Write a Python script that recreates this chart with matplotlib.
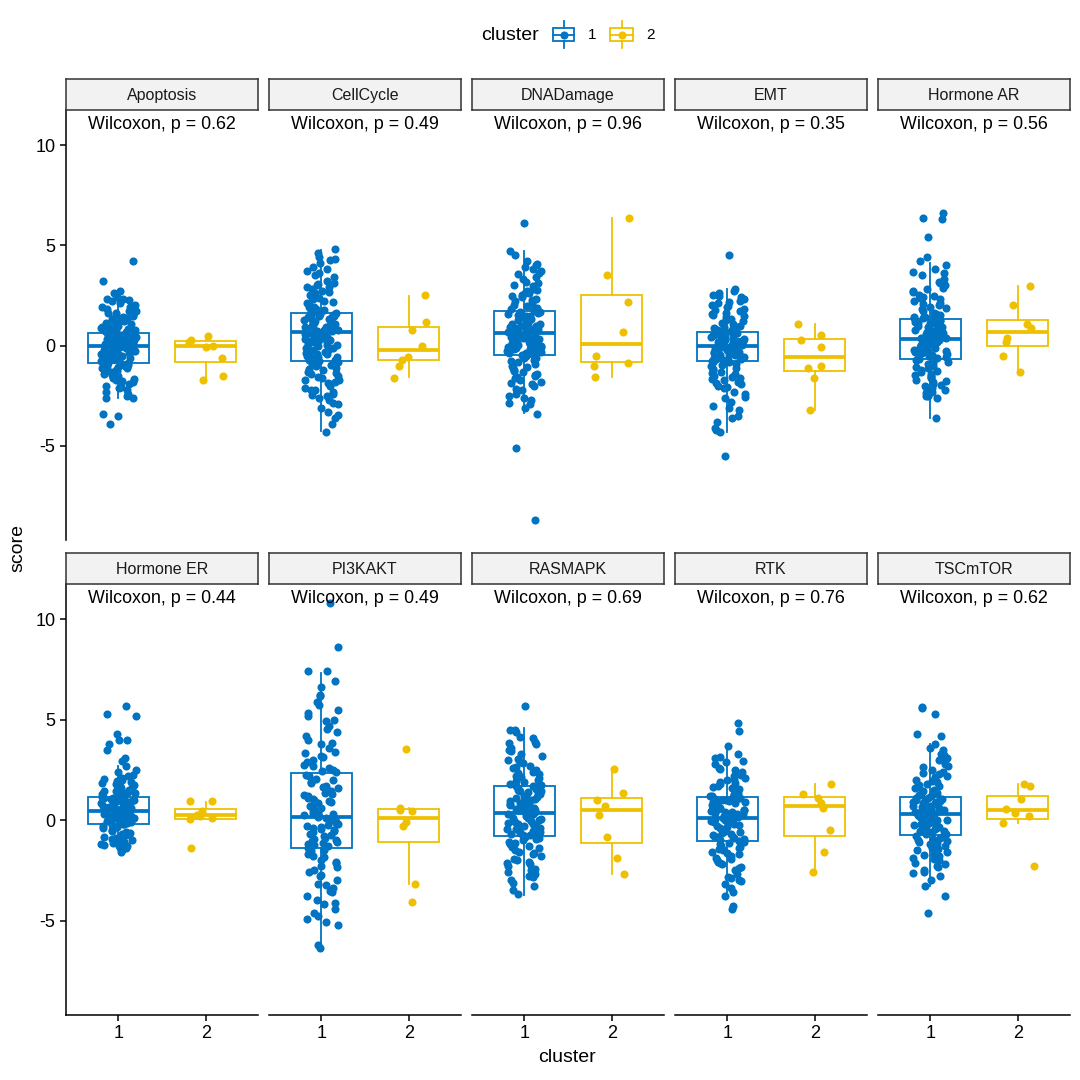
import numpy as np
import matplotlib.pyplot as plt
from matplotlib.patches import Rectangle

plt.rcParams['font.family'] = ['Liberation Sans', 'DejaVu Sans']
plt.rcParams['axes.unicode_minus'] = False

pathways = ['Apoptosis', 'CellCycle', 'DNADamage', 'EMT', 'Hormone AR',
            'Hormone ER', 'PI3KAKT', 'RASMAPK', 'RTK', 'TSCmTOR']
p_values = ['0.62', '0.49', '0.96', '0.35', '0.56', '0.44', '0.49', '0.69', '0.76', '0.62']

# box stats (cluster 1)
c1_q1 = [-0.86, -0.76, -0.45, -0.76, -0.69, -0.17, -1.41, -0.78, -1.04, -0.75]
c1_med = [0.0, 0.66, 0.63, -0.02, 0.35, 0.46, 0.17, 0.36, 0.12, 0.3]
c1_q3 = [0.63, 1.63, 1.72, 0.68, 1.3, 1.13, 2.32, 1.71, 1.13, 1.16]
c1_lo = [-2.6, -4.27, -3.37, -4.3, -3.6, -1.5, -6.2, -3.73, -3.81, -3.3]
c1_hi = [2.7, 4.77, 4.72, 2.8, 4.1, 2.7, 7.3, 4.56, 3.7, 3.8]

# cluster 2
c2_q1 = [-0.83, -0.74, -0.83, -1.27, -0.03, 0.05, -1.08, -1.16, -0.8, 0.07]
c2_med = [0.0, -0.22, 0.1, -0.56, 0.68, 0.26, 0.12, 0.48, 0.7, 0.5]
c2_q3 = [0.21, 0.91, 2.51, 0.31, 1.25, 0.55, 0.53, 1.11, 1.13, 1.19]
c2_lo = [-1.7, -1.55, -1.55, -3.2, -1.3, 0.05, -3.2, -2.69, -2.6, -0.15]
c2_hi = [0.5, 2.49, 6.34, 1.05, 2.95, 0.9, 0.6, 2.54, 1.8, 1.8]

# cluster 1 scores (estimated from the jittered cloud)
c1_apoptosis = [4.2, 3.2, 2.7, 2.6, 2.4, 2.3, 2.3, 2.2, 2.1, 2.0, 1.9, 1.8, 1.7, 1.7, 1.6, 1.5, 1.5, 1.4,
                1.3, 1.3, 1.2, 1.2, 1.1, 1.1, 1.0, 1.0, 0.9, 0.9, 0.8, 0.8, 0.7, 0.7, 0.6, 0.6, 0.55, 0.5,
                0.5, 0.45, 0.4, 0.4, 0.35, 0.3, 0.3, 0.25, 0.2, 0.2, 0.15, 0.1, 0.1, 0.05, 0.0, 0.0,
                -0.05, -0.1, -0.1, -0.15, -0.2, -0.2, -0.25, -0.3, -0.3, -0.35, -0.4, -0.4, -0.45, -0.5,
                -0.5, -0.55, -0.6, -0.65, -0.7, -0.75, -0.8, -0.85, -0.9, -0.95, -1.0, -1.0, -1.1, -1.1,
                -1.2, -1.2, -1.3, -1.4, -1.4, -1.5, -1.6, -1.7, -1.8, -1.9, -2.0, -2.1, -2.2, -2.4, -2.5,
                -2.6, -2.6, -3.4, -3.5, -3.9,
                0.12, -0.22, 0.33, -0.41, 0.57, -0.66, 0.08, -0.14, 0.27, -0.33, 0.48, -0.58, 0.91, -1.05,
                1.12, -1.27, 0.02, -0.07, 0.44, -0.48, 0.19, -0.29, 0.73, -0.77, 1.35, -1.45, 1.62, -1.66,
                0.37, -0.52, 0.63, -0.85, 1.9, -2.05, 2.25, -2.3, 0.15, -0.12, 0.52, -0.38, 0.85, -0.95,
                1.05, -1.15, 0.3, -0.6, 1.45, -1.75, 0.05, -0.25]
c1_cellcycle = [4.8, 4.6, 4.4, 4.3, 4.1, 3.9, 3.8, 3.7, 3.5, 3.4, 3.2, 3.1, 3.0, 2.9, 2.8, 2.7, 2.6, 2.5,
                2.4, 2.3, 2.2, 2.1, 2.0, 1.9, 1.8, 1.8, 1.7, 1.6, 1.55, 1.5, 1.45, 1.4, 1.35, 1.3, 1.25,
                1.2, 1.15, 1.1, 1.05, 1.0, 0.95, 0.9, 0.85, 0.8, 0.75, 0.7, 0.65, 0.6, 0.5, 0.45, 0.4,
                0.3, 0.25, 0.2, 0.1, 0.05, 0.0, -0.1, -0.15, -0.2, -0.3, -0.35, -0.4, -0.5, -0.55, -0.6,
                -0.7, -0.75, -0.8, -0.9, -1.0, -1.1, -1.2, -1.3, -1.4, -1.5, -1.6, -1.7, -1.8, -1.9, -2.0,
                -2.1, -2.2, -2.3, -2.4, -2.5, -2.6, -2.7, -2.9, -3.1, -3.3, -3.6, -3.9, -4.3,
                0.72, 0.41, 1.12, -0.22, 1.48, -0.58, 0.95, 0.18, 1.33, -0.41, 2.15, -1.35, 2.65, -1.85,
                0.55, 0.88, 1.62, -0.72, 3.05, -2.45, 0.28, 1.02, 1.75, -0.95, 3.6, -2.85, 0.65, 1.25,
                -0.1, 2.35, -1.55, 0.05, 1.9, -1.15, 2.9, -2.2, 0.78, 1.42, 0.33, -0.33, 4.25, -3.45,
                1.55, 0.92, 2.5, -1.7]
c1_dnadamage = [6.1, 4.7, 4.5, 4.2, 4.0, 3.9, 3.8, 3.7, 3.6, 3.4, 3.3, 3.1, 3.0, 2.8, 2.7, 2.6, 2.5, 2.4,
                2.3, 2.2, 2.1, 2.0, 1.9, 1.8, 1.75, 1.7, 1.65, 1.6, 1.5, 1.45, 1.4, 1.3, 1.25, 1.2, 1.1,
                1.05, 1.0, 0.95, 0.9, 0.85, 0.8, 0.75, 0.7, 0.65, 0.6, 0.55, 0.5, 0.45, 0.4, 0.35, 0.3,
                0.25, 0.2, 0.15, 0.1, 0.05, 0.0, -0.05, -0.1, -0.15, -0.2, -0.25, -0.3, -0.35, -0.4, -0.45,
                -0.5, -0.6, -0.7, -0.8, -0.9, -1.0, -1.1, -1.2, -1.3, -1.4, -1.5, -1.6, -1.7, -1.8, -1.9,
                -2.0, -2.2, -2.4, -2.6, -2.7, -2.9, -3.1, -3.4, -5.1, -8.7,
                0.68, 0.35, 1.15, -0.15, 1.52, -0.38, 0.92, 0.22, 1.38, 0.05, 2.25, -1.05, 2.75, -1.55,
                0.55, 0.82, 1.68, -0.28, 3.15, -2.15, 0.48, 1.08, 1.85, -0.75, 3.55, -2.5, 0.62, 1.28,
                0.12, 2.45, -1.25, 0.75, 1.95, -0.62, 2.95, -1.85, 0.88, 1.45, 0.38, -0.05, 4.05, -2.85,
                1.58, 0.98, 2.62, -1.45]
c1_emt = [4.5, 2.8, 2.7, 2.6, 2.5, 2.4, 2.3, 2.2, 2.1, 2.0, 1.9, 1.8, 1.7, 1.6, 1.5, 1.4, 1.3, 1.2, 1.1,
          1.0, 0.95, 0.9, 0.85, 0.8, 0.75, 0.7, 0.65, 0.6, 0.55, 0.5, 0.45, 0.4, 0.35, 0.3, 0.25, 0.2,
          0.15, 0.1, 0.05, 0.0, -0.05, -0.1, -0.15, -0.2, -0.25, -0.3, -0.35, -0.4, -0.45, -0.5, -0.55,
          -0.6, -0.65, -0.7, -0.75, -0.8, -0.9, -1.0, -1.1, -1.2, -1.3, -1.4, -1.5, -1.6, -1.7, -1.8,
          -1.9, -2.0, -2.1, -2.3, -2.4, -2.6, -2.8, -3.0, -3.2, -3.5, -3.6, -3.8, -4.1, -4.2, -4.3, -5.5,
          0.05, -0.32, 0.42, -0.55, 0.62, -0.71, 0.22, -0.12, 0.51, -0.45, 1.05, -1.15, 1.45, -1.55,
          -0.05, 0.12, 0.75, -0.82, 1.75, -2.05, 0.33, -0.25, 0.95, -0.95, 2.15, -2.55, 0.02, 0.58,
          -0.62, 1.25, -1.35, 0.28, 0.88, -0.38, 1.95, -1.85, -0.15, 0.45, -0.48, 0.15, 2.45, -3.1,
          0.68, -0.68, 1.55, -1.65]
c1_hormone_ar = [6.6, 6.35, 6.3, 5.4, 4.4, 4.2, 4.0, 3.8, 3.6, 3.5, 3.3, 3.1, 3.0, 2.8, 2.7, 2.5, 2.4,
                 2.3, 2.2, 2.1, 2.0, 1.9, 1.8, 1.7, 1.6, 1.5, 1.4, 1.35, 1.3, 1.2, 1.15, 1.1, 1.0, 0.95,
                 0.9, 0.8, 0.75, 0.7, 0.6, 0.55, 0.5, 0.4, 0.35, 0.3, 0.2, 0.15, 0.1, 0.0, -0.05, -0.1,
                 -0.2, -0.25, -0.3, -0.4, -0.45, -0.5, -0.6, -0.65, -0.7, -0.8, -0.9, -1.0, -1.1, -1.2,
                 -1.3, -1.4, -1.5, -1.6, -1.7, -1.8, -1.9, -2.0, -2.1, -2.2, -2.3, -2.5, -2.5, -2.6, -3.6,
                 0.42, 0.05, 0.85, -0.35, 1.18, -0.55, 0.62, -0.12, 1.05, -0.25, 1.85, -1.05, 2.35, -1.45,
                 0.28, 0.52, 1.28, -0.68, 2.65, -1.75, 0.15, 0.72, 1.55, -0.85, 3.15, -2.25, 0.38, 0.95,
                 -0.02, 2.05, -1.25, 0.22, 1.42, -0.45, 2.85, -1.95, 0.48, 1.12, 0.08, -0.18, 3.65, -2.35,
                 1.35, 0.68, 2.45, -1.55]
c1_hormone_er = [5.7, 5.3, 5.2, 4.3, 4.0, 4.0, 3.8, 3.5, 3.1, 2.95, 2.7, 2.5, 2.4, 2.2, 2.1, 2.0, 1.9,
                 1.8, 1.7, 1.6, 1.5, 1.5, 1.4, 1.35, 1.3, 1.25, 1.2, 1.15, 1.1, 1.05, 1.0, 0.95, 0.9,
                 0.85, 0.8, 0.75, 0.7, 0.65, 0.6, 0.55, 0.5, 0.45, 0.4, 0.35, 0.3, 0.25, 0.2, 0.15, 0.1,
                 0.05, 0.0, -0.05, -0.1, -0.15, 1.45, 1.0, 0.85, 0.6, 0.4, 0.2, 0.0, -0.2, -0.3, -0.4,
                 -0.5, -0.6, -0.7, -0.8, -0.9, -1.0, -1.1, -1.2, -1.3, -1.3, -1.4, -1.5, -1.6,
                 0.48, 0.22, 0.78, -0.05, 1.02, -0.12, 0.62, 0.12, 0.92, 0.02, 1.45, -0.55, 1.75, -0.85,
                 0.38, 0.55, 1.12, -0.18, 1.95, -1.05, 0.28, 0.72, 1.28, -0.35, 2.25, -1.25, 0.42, 0.88,
                 0.18, 1.58, -0.65, 0.32, 1.05, -0.25, 1.85, -0.95, 0.52, 0.98, 0.08, 0.68, 2.05, -1.15,
                 1.22, 0.58, 1.65, -0.75, 0.35, 0.82, -0.08, 0.15]
c1_pi3kakt = [10.8, 8.6, 7.4, 7.4, 6.9, 6.6, 6.2, 5.9, 5.5, 5.2, 5.0, 4.7, 4.4, 4.2, 4.0, 3.8, 3.6, 3.4,
              3.2, 3.0, 2.9, 2.7, 2.6, 2.5, 2.4, 2.2, 2.0, 1.9, 1.7, 1.6, 1.5, 1.3, 1.2, 1.1, 1.0, 0.9,
              0.7, 0.6, 0.5, 0.4, 0.3, 0.2, 0.1, 0.0, -0.1, -0.2, -0.3, -0.4, -0.5, -0.6, -0.7, -0.8,
              -0.9, -1.0, -1.1, -1.2, -1.3, -1.4, -1.5, -1.7, -1.8, -2.0, -2.1, -2.3, -2.5, -2.6, -2.8,
              -3.0, -3.2, -3.4, -3.6, -3.8, -4.0, -4.2, -4.4, -4.6, -4.9, -5.2, -6.2, -6.35,
              0.25, -0.45, 1.05, -0.95, 1.85, -1.25, 0.65, -0.15, 1.45, -0.75, 3.35, -2.35, 4.55, -3.25,
              0.05, 0.85, 2.25, -1.55, 5.35, -4.15, -0.35, 1.25, 2.75, -1.85, 6.25, -4.75, 0.45, 1.65,
              -0.55, 3.85, -2.75, 0.15, 2.05, -1.05, 4.95, -3.55, 0.35, 1.35, -0.25, 0.95, 5.75, -5.05,
              2.45, -1.15, 3.15, -2.15]
c1_rasmapk = [5.7, 4.5, 4.5, 4.4, 4.1, 3.9, 3.8, 3.6, 3.5, 3.3, 3.2, 3.0, 2.9, 2.7, 2.6, 2.5, 2.4, 2.3,
              2.2, 2.1, 2.0, 1.9, 1.8, 1.75, 1.7, 1.6, 1.5, 1.45, 1.4, 1.3, 1.2, 1.1, 1.0, 0.95, 0.9,
              0.8, 0.7, 0.6, 0.55, 0.5, 0.4, 0.3, 0.2, 0.15, 0.1, 0.0, -0.1, -0.15, -0.2, -0.3, -0.4,
              -0.45, -0.5, -0.6, -0.7, -0.75, -0.8, -0.9, -1.0, -1.1, -1.2, -1.3, -1.4, -1.5, -1.6,
              -1.7, -1.8, -2.0, -2.1, -2.2, -2.3, -2.5, -2.6, -2.7, -2.8, -3.0, -3.3, -3.5, -3.7,
              0.42, -0.05, 1.05, -0.45, 1.55, -0.65, 0.75, 0.12, 1.32, -0.28, 2.35, -1.35, 3.05, -1.95,
              0.28, 0.92, 1.68, -0.72, 3.45, -2.45, 0.18, 0.85, 1.95, -0.95, 3.85, -2.85, 0.55, 1.22,
              -0.18, 2.65, -1.65, 0.35, 1.45, -0.55, 2.85, -2.15, 0.65, 1.15, 0.05, 0.48, 4.15, -3.15,
              1.75, -0.85, 2.15, -1.15]
c1_rtk = [4.85, 4.45, 3.7, 3.3, 3.1, 2.9, 2.8, 2.6, 2.5, 2.4, 2.3, 2.2, 2.1, 2.0, 1.9, 1.8, 1.7, 1.6,
          1.5, 1.4, 1.3, 1.2, 1.15, 1.1, 1.0, 0.95, 0.9, 0.8, 0.75, 0.7, 0.6, 0.55, 0.5, 0.4, 0.35, 0.3,
          0.2, 0.15, 0.1, 0.0, -0.1, -0.15, -0.2, -0.3, -0.4, -0.5, -0.55, -0.6, -0.7, -0.8, -0.85,
          -0.9, -1.0, -1.1, -1.2, -1.3, -1.4, -1.5, -1.6, -1.7, -1.8, -1.9, -2.0, -2.1, -2.2, -2.4,
          -2.5, -2.7, -2.9, -3.0, -3.2, -3.4, -3.6, -3.8, -4.3, -4.4,
          0.18, -0.35, 0.75, -0.65, 1.05, -0.95, 0.45, -0.12, 0.92, -0.52, 1.65, -1.45, 2.25, -1.95,
          0.05, 0.62, 1.12, -0.85, 2.55, -2.35, 0.28, -0.22, 1.35, -1.15, 2.95, -2.85, 0.38, 0.85,
          -0.42, 1.85, -1.65, 0.12, 1.02, -0.75, 2.05, -2.15, 0.52, 0.95, -0.05, 0.22, 3.15, -3.05,
          1.22, -1.05, 1.55, -1.35]
c1_tscmtor = [5.65, 5.6, 5.3, 4.3, 4.2, 3.8, 3.6, 3.5, 3.3, 3.1, 3.0, 2.8, 2.7, 2.5, 2.4, 2.3, 2.2, 2.0,
              1.9, 1.8, 1.7, 1.6, 1.5, 1.4, 1.3, 1.2, 1.1, 1.05, 1.0, 0.9, 0.85, 0.8, 0.7, 0.65, 0.6,
              0.5, 0.45, 0.4, 0.3, 0.25, 0.2, 0.1, 0.05, 0.0, -0.1, -0.15, -0.2, -0.3, -0.35, -0.4,
              -0.5, -0.55, -0.6, -0.7, -0.8, -0.9, -1.0, -1.1, -1.2, -1.3, -1.4, -1.5, -1.6, -1.7,
              -1.8, -1.9, -2.0, -2.2, -2.3, -2.5, -2.6, -2.8, -3.0, -3.3, -3.8, -4.6,
              0.35, -0.15, 0.85, -0.45, 1.12, -0.68, 0.58, 0.08, 0.98, -0.32, 1.75, -1.25, 2.35, -1.75,
              0.22, 0.72, 1.25, -0.78, 2.65, -2.15, 0.15, 0.62, 1.45, -0.95, 3.05, -2.65, 0.42, 0.95,
              -0.25, 1.95, -1.45, 0.28, 1.05, -0.55, 2.15, -1.95, 0.48, 0.88, 0.02, 0.52, 3.25, -2.35,
              1.35, -1.05, 1.65, -1.15]

# cluster 2 scores
c2_apoptosis = [0.5, 0.3, 0.2, 0.0, -0.05, -0.6, -1.5, -1.7]
c2_cellcycle = [2.5, 1.15, 0.8, 0.0, -0.55, -0.7, -1.0, -1.6]
c2_dnadamage = [6.35, 3.5, 2.15, 0.7, -0.5, -0.85, -1.0, -1.55]
c2_emt = [1.05, 0.55, 0.3, -0.05, -1.0, -1.1, -1.6, -3.2]
c2_hormone_ar = [2.95, 2.0, 1.05, 0.9, 0.4, 0.2, -0.5, -1.3]
c2_hormone_er = [0.95, 0.95, 0.45, 0.25, 0.2, 0.1, 0.05, -1.4]
c2_pi3kakt = [3.55, 0.6, 0.5, 0.45, -0.1, -0.3, -3.2, -4.1]
c2_rasmapk = [2.55, 1.35, 1.0, 0.7, 0.25, -0.85, -1.9, -2.7]
c2_rtk = [1.8, 1.3, 1.1, 0.85, 0.6, -0.5, -1.6, -2.6]
c2_tscmtor = [1.8, 1.7, 1.05, 0.55, 0.35, 0.2, -0.15, -2.3]

c1_points = [c1_apoptosis, c1_cellcycle, c1_dnadamage, c1_emt, c1_hormone_ar,
             c1_hormone_er, c1_pi3kakt, c1_rasmapk, c1_rtk, c1_tscmtor]
c2_points = [c2_apoptosis, c2_cellcycle, c2_dnadamage, c2_emt, c2_hormone_ar,
             c2_hormone_er, c2_pi3kakt, c2_rasmapk, c2_rtk, c2_tscmtor]

blue = '#0073C2'
yellow = '#EFC000'
W = H = 1080.0

fig = plt.figure(figsize=(10.8, 10.8), dpi=100)


def px_axes(x0, y0, x1, y1):
    # axes from pixel box (origin top left)
    return fig.add_axes([x0 / W, 1 - y1 / H, (x1 - x0) / W, (y1 - y0) / H])


def jitter(n, phase):
    # sideways spread, width 0.2 like ggpubr's jitter (hash, not data)
    u = np.sin((np.arange(n) + 1) * 12.9898 + phase) * 43758.5453
    return 0.4 * ((u - np.floor(u)) - 0.5)


col_x = [66, 269, 472, 675, 878]
rows = [(79, 110, 540), (553, 584, 1015)]

for i, name in enumerate(pathways):
    r, c = divmod(i, 5)
    st, top, bot = rows[r]
    x0 = col_x[c]
    ax = px_axes(x0, top, x0 + 192, bot)
    sax = px_axes(x0, st, x0 + 192, top)

    stats = [dict(med=c1_med[i], q1=c1_q1[i], q3=c1_q3[i], whislo=c1_lo[i], whishi=c1_hi[i], fliers=[]),
             dict(med=c2_med[i], q1=c2_q1[i], q3=c2_q3[i], whislo=c2_lo[i], whishi=c2_hi[i], fliers=[])]
    bp = ax.bxp(stats, positions=[1, 2], widths=0.7, showcaps=False, showfliers=False,
                patch_artist=True, manage_ticks=False)
    for k, col in enumerate([blue, yellow]):
        bp['boxes'][k].set(facecolor='white', edgecolor=col, linewidth=1.3, zorder=2)
        bp['medians'][k].set(color=col, linewidth=2.7, zorder=2)
        for wl in bp['whiskers'][2 * k:2 * k + 2]:
            wl.set(color=col, linewidth=1.3, zorder=2)

    v1 = np.array(c1_points[i])
    v2 = np.array(c2_points[i])
    ax.scatter(1 + jitter(len(v1), 1.7 * i), v1, s=34, color=blue, linewidths=0, zorder=3)
    ax.scatter(2 + jitter(len(v2), 0.9 + 2.3 * i), v2, s=34, color=yellow, linewidths=0, zorder=3)

    ax.text(1.5, 11.05, 'Wilcoxon, p = ' + p_values[i], ha='center', va='center', fontsize=12.9)

    ax.set_xlim(0.4, 2.6)
    ax.set_ylim(-9.7, 11.75)
    for s in ax.spines.values():
        s.set_visible(False)
        s.set_linewidth(1.1)
    ax.tick_params(length=4, width=1.1, labelsize=13, colors='black')
    if c == 0:
        ax.spines['left'].set_visible(True)
        ax.set_yticks([-5, 0, 5, 10])
    else:
        ax.set_yticks([])
    if r == 1:
        ax.spines['bottom'].set_visible(True)
        ax.set_xticks([1, 2])
        ax.set_xticklabels(['1', '2'])
    else:
        ax.set_xticks([])

    sax.set_facecolor('#F2F2F2')
    sax.set_xticks([])
    sax.set_yticks([])
    for s in sax.spines.values():
        s.set_linewidth(1.1)
        s.set_color('#333333')
    sax.text(0.5, 0.46, name, ha='center', va='center', fontsize=11.5, color='#1A1A1A',
             transform=sax.transAxes)

fig.text(18 / W, 1 - 548 / H, 'score', rotation=90, ha='center', va='center', fontsize=14)
fig.text(567 / W, 1 - 1057 / H, 'cluster', ha='center', va='center', fontsize=14)

# legend at the top
lax = px_axes(0, 0, 1080, 70)
lax.set_xlim(0, 1080)
lax.set_ylim(70, 0)
lax.axis('off')
lax.text(481, 35, 'cluster', ha='left', va='center', fontsize=14)
for (kx0, kx1, col, lab, lx) in [(553, 574, blue, '1', 588), (610, 633, yellow, '2', 646)]:
    cx = (kx0 + kx1) / 2
    lax.add_patch(Rectangle((kx0, 28), kx1 - kx0, 13, facecolor='white', edgecolor=col, lw=1.3))
    lax.plot([kx0, kx1], [34.5, 34.5], color=col, lw=1.3)
    lax.plot([cx, cx], [21, 28], color=col, lw=1.3)
    lax.plot([cx, cx], [41, 48], color=col, lw=1.3)
    lax.scatter([cx], [34.5], s=34, color=col, linewidths=0, zorder=3)
    lax.text(lx, 35, lab, ha='left', va='center', fontsize=11)

fig.savefig('out.png', dpi=100)
